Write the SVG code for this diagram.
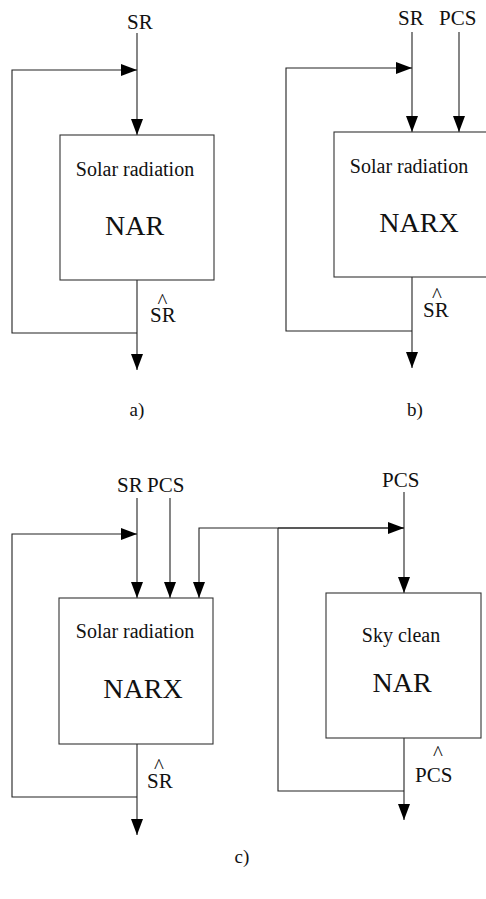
<svg xmlns="http://www.w3.org/2000/svg" width="486" height="899" viewBox="0 0 486 899">
<style>
.ln{fill:none;stroke:#222;stroke-width:1.1}
.bx{fill:#fff;stroke:#333;stroke-width:1.1}
.t{font-family:"Liberation Serif","Times New Roman",serif;fill:#111}
.lb{font-size:21px}
.sm{font-size:20px;text-anchor:middle}
.bg{font-size:28px;text-anchor:middle}
.pl{font-size:19px;text-anchor:middle}
</style>
<defs>
<marker id="ah" markerUnits="userSpaceOnUse" markerWidth="16" markerHeight="12" refX="16" refY="6" orient="auto">
<path d="M0,0 L16,6 L0,12 Z" fill="#000"/>
</marker>
</defs>
<rect width="486" height="899" fill="#fff"/>
<g id="connectors">
<path class="ln" d="M137,33 V135" marker-end="url(#ah)"/>
<path class="ln" d="M137,333 H12 V70 H137" marker-end="url(#ah)"/>
<path class="ln" d="M137,280 V370" marker-end="url(#ah)"/>
<path class="ln" d="M412,32 V132" marker-end="url(#ah)"/>
<path class="ln" d="M459,32 V132" marker-end="url(#ah)"/>
<path class="ln" d="M412,331 H286 V68 H412" marker-end="url(#ah)"/>
<path class="ln" d="M412,277 V368" marker-end="url(#ah)"/>
<path class="ln" d="M137,498 V598" marker-end="url(#ah)"/>
<path class="ln" d="M170,498 V598" marker-end="url(#ah)"/>
<path class="ln" d="M137,797 H12 V534 H137" marker-end="url(#ah)"/>
<path class="ln" d="M137,744 V835" marker-end="url(#ah)"/>
<path class="ln" d="M404,528 H199 V598" marker-end="url(#ah)"/>
<path class="ln" d="M278,528 H404" marker-end="url(#ah)"/>
<path class="ln" d="M404,492 V593" marker-end="url(#ah)"/>
<path class="ln" d="M404,791 H278 V528"/>
<path class="ln" d="M404,738 V820" marker-end="url(#ah)"/>
</g>
<g id="nodeA">
<rect class="bx" x="60" y="135" width="154" height="145"/>
<text class="t sm" x="135" y="176">Solar radiation</text>
<text class="t bg" x="134.5" y="235">NAR</text>
</g>
<g id="nodeB">
<rect class="bx" x="334" y="132" width="160" height="145"/>
<text class="t sm" x="409" y="173">Solar radiation</text>
<text class="t bg" x="419" y="232">NARX</text>
</g>
<g id="nodeC1">
<rect class="bx" x="59" y="598" width="154" height="146"/>
<text class="t sm" x="135" y="638">Solar radiation</text>
<text class="t bg" x="143" y="698">NARX</text>
</g>
<g id="nodeC2">
<rect class="bx" x="326" y="593" width="155" height="145"/>
<text class="t sm" x="401" y="642">Sky clean</text>
<text class="t bg" x="402" y="692">NAR</text>
</g>
<g id="labels">
<text class="t lb" x="127" y="29">SR</text>
<text class="t lb" x="150" y="322">S<tspan dx="-4.1" dy="-14">^</tspan><tspan dx="-5.75" dy="14">R</tspan></text>
<text class="t pl" x="137" y="416">a)</text>
<text class="t lb" x="398" y="25">SR</text>
<text class="t lb" x="439" y="25">PCS</text>
<text class="t lb" x="423" y="317">S<tspan dx="-2.6" dy="-15">^</tspan><tspan dx="-7.25" dy="15">R</tspan></text>
<text class="t pl" x="415" y="416">b)</text>
<text class="t lb" x="117" y="492">SR</text>
<text class="t lb" x="147" y="492">PCS</text>
<text class="t lb" x="147" y="788">S<tspan dx="-4.6" dy="-15">^</tspan><tspan dx="-5.25" dy="15">R</tspan></text>
<text class="t lb" x="382" y="487">PCS</text>
<text class="t lb" x="415" y="782">P<tspan dx="6.4" dy="-22">^</tspan><tspan dx="-16.25" dy="22">CS</tspan></text>
<text class="t pl" x="242" y="863">c)</text>
</g>
</svg>
